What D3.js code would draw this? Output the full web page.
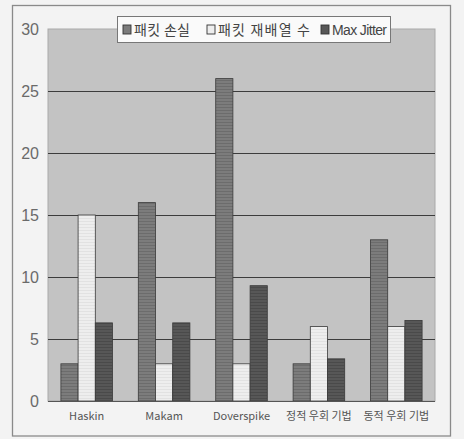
<!DOCTYPE html>
<html>
<head>
<meta charset="utf-8">
<script src="https://cdn.jsdelivr.net/npm/d3@7"></script>
<style>
  html, body { margin: 0; padding: 0; background: #f3f3f3; }
  svg { display: block; }
</style>
</head>
<body>
<svg id="chart" width="464" height="439"></svg>
<script>
// Categories and series
const categories = ["Haskin", "Makam", "Doverspike", "정적 우회 기법", "동적 우회 기법"];
const seriesNames = ["패킷 손실", "패킷 재배열 수", "Max Jitter"];
const packetLoss = [3, 16, 26, 3, 13];
const reorderCount = [15, 3, 3, 6, 6];
const maxJitter = [6.3, 6.3, 9.3, 3.4, 6.5];
const yTicks = [0, 5, 10, 15, 20, 25, 30];

const seriesValues = [packetLoss, reorderCount, maxJitter];
const fills = ["#7c7c7c", "#eeeeee", "#575757"];
const hatch = ["#6c6c6c", "#e2e2e2", "#4a4a4a"];

const svg = d3.select("#chart");
const plot = { left: 48, right: 435, top: 29, bottom: 401 };

// Hatched fills for the bars
const defs = svg.append("defs");
fills.forEach((c, i) => {
  const p = defs.append("pattern")
    .attr("id", "pat" + i)
    .attr("patternUnits", "userSpaceOnUse")
    .attr("width", 4).attr("height", 3);
  p.append("rect").attr("width", 4).attr("height", 3).attr("fill", c);
  p.append("rect").attr("y", 2).attr("width", 4).attr("height", 1).attr("fill", hatch[i]);
});

// Outer frame
svg.append("rect")
  .attr("x", 12.5).attr("y", 5.5).attr("width", 438).attr("height", 430.5)
  .attr("fill", "#f3f3f3").attr("stroke", "#8a8a8a").attr("stroke-width", 1.3);

const x0 = d3.scaleBand().domain(categories).range([plot.left, plot.right]).padding(0);
const x1 = d3.scaleBand().domain(d3.range(seriesNames.length))
  .range([0, x0.bandwidth()]).paddingInner(0).paddingOuter(0.75);
const y = d3.scaleLinear().domain([0, 30]).range([plot.bottom, plot.top]);

// Plot area background
svg.append("rect")
  .attr("x", plot.left).attr("y", plot.top)
  .attr("width", plot.right - plot.left).attr("height", plot.bottom - plot.top)
  .attr("fill", "#c3c3c3").attr("stroke", "#a9a9a9").attr("stroke-width", 1);

// Gridlines
svg.append("g").selectAll("line")
  .data(yTicks.filter(t => t > 0 && t < 30))
  .join("line")
  .attr("x1", plot.left).attr("x2", plot.right)
  .attr("y1", d => Math.round(y(d)) + 0.5).attr("y2", d => Math.round(y(d)) + 0.5)
  .attr("stroke", "#3c3c3c").attr("stroke-width", 1.2);

// Bars
const groups = svg.append("g").selectAll("g")
  .data(categories)
  .join("g")
  .attr("transform", d => `translate(${x0(d)},0)`);

groups.selectAll("rect")
  .data((d, ci) => seriesValues.map((vals, si) => ({ si, v: vals[ci] })))
  .join("rect")
  .attr("x", d => x1(d.si))
  .attr("y", d => y(d.v))
  .attr("width", x1.bandwidth())
  .attr("height", d => y(0) - y(d.v))
  .attr("fill", d => `url(#pat${d.si})`)
  .attr("stroke", "#3a3a3a").attr("stroke-width", 0.8);

// Baseline axis
svg.append("line")
  .attr("x1", plot.left).attr("x2", plot.right)
  .attr("y1", plot.bottom + 0.5).attr("y2", plot.bottom + 0.5)
  .attr("stroke", "#555").attr("stroke-width", 1.2);

// Y axis labels
const yAxis = d3.axisLeft(y).tickValues(yTicks).tickSize(0).tickPadding(9);
const gy = svg.append("g").attr("transform", `translate(${plot.left},0)`).call(yAxis);
gy.select(".domain").remove();
gy.selectAll("text")
  .attr("font-family", "'Liberation Sans Narrow', 'Liberation Sans', Arial, sans-serif")
  .attr("font-size", 16).attr("fill", "#6a6a6a");

// X axis labels
const xAxis = d3.axisBottom(x0).tickSize(0).tickPadding(11);
const gx = svg.append("g").attr("transform", `translate(0,${plot.bottom})`).call(xAxis);
gx.select(".domain").remove();
gx.selectAll("text")
  .attr("font-family", "'Noto Sans CJK KR', 'DejaVu Sans', sans-serif")
  .attr("font-size", 11).attr("fill", "#555");

// Legend
const legend = svg.append("g");
legend.append("rect")
  .attr("x", 117.5).attr("y", 16.5).attr("width", 273).attr("height", 26)
  .attr("fill", "#fafafa").attr("stroke", "#777").attr("stroke-width", 1);

const legendX = [123, 207, 321];
const legendTextLen = [56, 92, 55];
const legendFont = [
  "'Noto Sans CJK KR', sans-serif",
  "'Noto Sans CJK KR', sans-serif",
  "'Liberation Sans Narrow', 'Liberation Sans', Arial, sans-serif"
];
seriesNames.forEach((name, i) => {
  legend.append("rect")
    .attr("x", legendX[i]).attr("y", 25).attr("width", 8).attr("height", 9)
    .attr("fill", fills[i]).attr("stroke", "#333").attr("stroke-width", 0.9);
  legend.append("text")
    .attr("x", legendX[i] + 11).attr("y", 35)
    .attr("font-family", legendFont[i])
    .attr("font-size", 14).attr("fill", "#444")
    .attr("textLength", legendTextLen[i])
    .attr("lengthAdjust", "spacing")
    .text(name);
});
</script>
</body>
</html>
